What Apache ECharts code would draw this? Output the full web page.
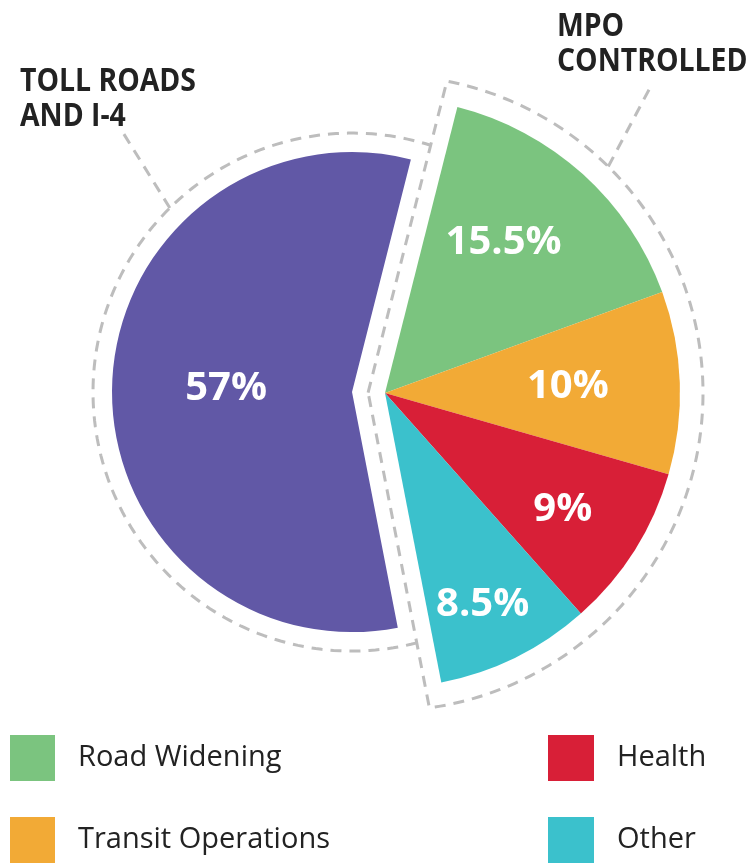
<!DOCTYPE html>
<html><head><meta charset="utf-8">
<script src="https://cdn.jsdelivr.net/npm/echarts@6/dist/echarts.min.js"></script>
<style>html,body{margin:0;padding:0;background:#fff}#chart{width:750px;height:864px}</style>
</head><body><div id="chart"></div>
<script>
// ---- data ----
const mpoCategories = ['Road Widening', 'Transit Operations', 'Health', 'Other'];
const mpoValues = [15.5, 10, 9, 8.5];
const tollCategory = 'Toll Roads and I-4';
const tollValue = 57;
const legendLeft = ['Road Widening', 'Transit Operations'];
const legendRight = ['Health', 'Other'];
const groupTitles = ['TOLL ROADS\nAND I-4', 'MPO\nCONTROLLED'];

// ---- styles / layout ----
const mpoColors = ['#7bc47f', '#f2aa36', '#d81f37', '#3bc1cc'];
const tollColor = '#6158a6';
const dashColor = '#bdbdbd';
const C = [385, 393];          // MPO group centre
const Rm = 295;                // MPO radius
const Rt = 240;                // toll slice radius
const tollOffset = 33;         // toll slice pulled out
const startDeg = 14.2;         // clockwise from 12 o'clock
const d = 16.5;                // dashed outline offset
const RmOut = 318, RtOut = 259;
const bodyFont = "'Open Sans', sans-serif";
// label placement inside slices (radius fraction, angular fraction)
const mpoLabelR = [0.65, 0.62, 0.72, 0.79];
const mpoLabelT = [0.43, 0.5, 0.53, 0.55];
const tollLabelR = 0.525, tollLabelT = 0.5;

const rad = a => a * Math.PI / 180;
const u = a => [Math.sin(rad(a)), -Math.cos(rad(a))];
const pt = (c, r, a) => [c[0] + r * Math.sin(rad(a)), c[1] - r * Math.cos(rad(a))];
const total = mpoValues.reduce((s, v) => s + v, 0) + tollValue;
const mpoSum = mpoValues.reduce((s, v) => s + v, 0);
const th0 = startDeg, th1 = startDeg + 360 * mpoSum / total;
const tollMid = th1 + 180 * tollValue / total;
const P = [C[0] + tollOffset * u(tollMid)[0], C[1] + tollOffset * u(tollMid)[1]];

const mpoStarts = [];
{ let a = th0; mpoValues.forEach(v => { mpoStarts.push(a); a += 360 * v / total; }); }

function arcPts(c, r, a0, a1, n) {
  const res = [];
  for (let i = 0; i <= n; i++) res.push(pt(c, r, a0 + (a1 - a0) * i / n));
  return res;
}
// MPO dashed outline
const half = (th1 - th0) / 2, mid = (th0 + th1) / 2;
const apexDist = d / Math.sin(rad(half));
const apex = [C[0] - apexDist * u(mid)[0], C[1] - apexDist * u(mid)[1]];
const delta = Math.asin(d / RmOut) * 180 / Math.PI;
const mpoOutline = [apex].concat(arcPts(C, RmOut, th0 - delta, th1 + delta, 160)).concat([apex]);
// Toll dashed arc
const PC = [P[0] - C[0], P[1] - C[1]];
const n0 = [-Math.cos(rad(th0)), -Math.sin(rad(th0))];
const n1 = [Math.cos(rad(th1)), Math.sin(rad(th1))];
const k0 = (d - (PC[0] * n0[0] + PC[1] * n0[1])) / RtOut;
const k1 = (d - (PC[0] * n1[0] + PC[1] * n1[1])) / RtOut;
const phiBottom = th1 + Math.asin(k1) * 180 / Math.PI;
const phiTop = th0 - Math.asin(k0) * 180 / Math.PI + 360;
const tollOutline = arcPts(P, RtOut, phiBottom, phiTop, 160);
// leader lines
const tollLeader = [pt(P, RtOut, 315.3), [122, 131]];
const mpoLeader = [pt(C, RmOut, 44.6), [652, 84]];

const dashStyle = { stroke: dashColor, lineWidth: 3, lineDash: [11, 8], fill: null };
const percentLabel = { show: true, position: 'inside', color: '#fff', fontSize: 40, fontWeight: 'bold', fontFamily: bodyFont, formatter: p => p.value + '%' };
const titleStyle = t => ({ text: t, fill: '#222', font: "bold 33px 'Open Sans', sans-serif", lineHeight: 35, verticalAlign: 'top', align: 'left' });

const chart = echarts.init(document.getElementById('chart'), null, { renderer: 'canvas' });
chart.setOption({
  animation: false,
  backgroundColor: '#fff',
  legend: [
    { data: legendLeft, orient: 'vertical', left: 10, top: 735, padding: 0, itemWidth: 45, itemHeight: 46, itemGap: 36, icon: 'rect', selectedMode: false,
      textStyle: { fontSize: 29, color: '#222', fontFamily: bodyFont, padding: [0, 0, 0, 18] } },
    { data: legendRight, orient: 'vertical', left: 548, top: 735, padding: 0, itemWidth: 46, itemHeight: 46, itemGap: 36, icon: 'rect', selectedMode: false,
      textStyle: { fontSize: 29, color: '#222', fontFamily: bodyFont, padding: [0, 0, 0, 18] } }
  ],
  graphic: [
    { type: 'polyline', shape: { points: mpoOutline }, style: dashStyle, silent: true },
    { type: 'polyline', shape: { points: tollOutline }, style: dashStyle, silent: true },
    { type: 'polyline', shape: { points: tollLeader }, style: dashStyle, silent: true },
    { type: 'polyline', shape: { points: mpoLeader }, style: dashStyle, silent: true },
    { type: 'text', x: 20, y: 64, scaleX: 0.86, style: titleStyle(groupTitles[0]) },
    { type: 'text', x: 557, y: 9, scaleX: 0.86, style: titleStyle(groupTitles[1]) }
  ],
  series: [
    {
      type: 'pie', name: 'MPO', center: C, radius: [0, Rm], startAngle: 90 - th0, clockwise: true,
      avoidLabelOverlap: false, label: percentLabel, labelLine: { show: false }, emphasis: { disabled: true },
      data: mpoCategories.map((n, i) => ({ name: n, value: mpoValues[i], itemStyle: { color: mpoColors[i] } }))
        .concat([{ name: tollCategory, value: tollValue, itemStyle: { color: 'transparent' }, label: { show: false } }]),
      labelLayout: p => {
        const i = p.dataIndex; if (i >= mpoValues.length) return {};
        const a = mpoStarts[i] + mpoLabelT[i] * 360 * mpoValues[i] / total;
        const q = pt(C, Rm * mpoLabelR[i], a);
        return { x: q[0], y: q[1], align: 'center', verticalAlign: 'middle' };
      }
    },
    {
      type: 'pie', name: 'Toll', center: P, radius: [0, Rt], startAngle: 90 - th0, clockwise: true,
      avoidLabelOverlap: false, label: percentLabel, labelLine: { show: false }, emphasis: { disabled: true },
      data: [{ name: 'MPO Controlled', value: mpoSum, itemStyle: { color: 'transparent' }, label: { show: false } },
             { name: tollCategory, value: tollValue, itemStyle: { color: tollColor } }],
      labelLayout: p => {
        if (p.dataIndex !== 1) return {};
        const a = th1 + tollLabelT * 360 * tollValue / total;
        const q = pt(P, Rt * tollLabelR, a);
        return { x: q[0], y: q[1], align: 'center', verticalAlign: 'middle' };
      }
    }
  ]
});
</script></body></html>
